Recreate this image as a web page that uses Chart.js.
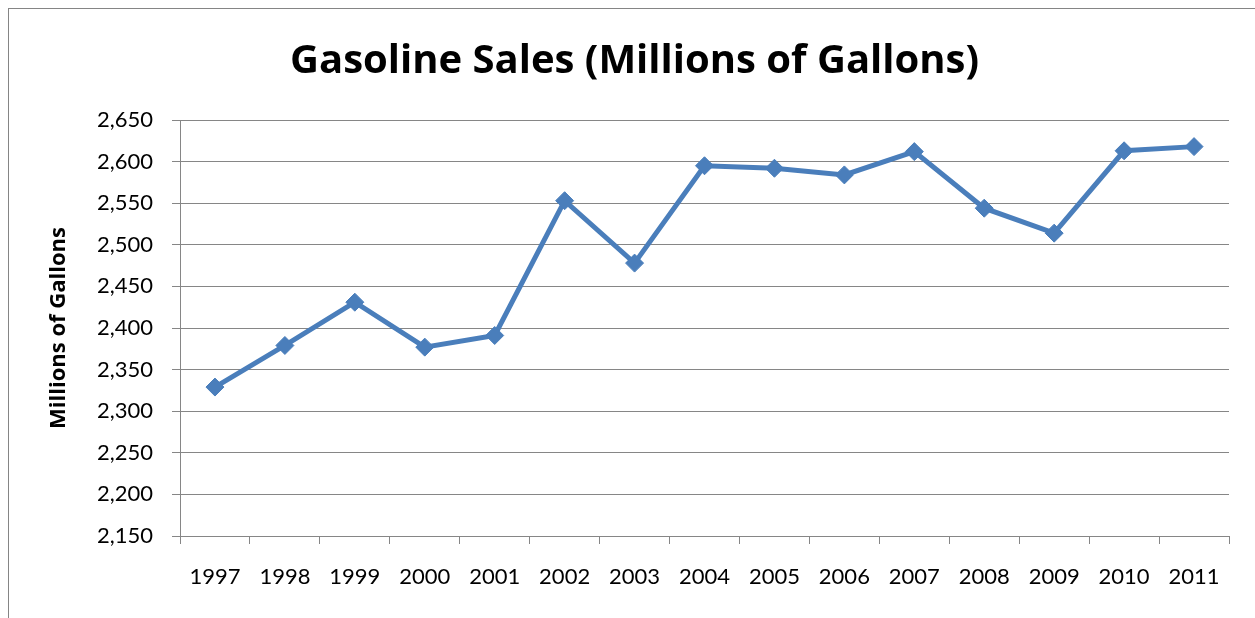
<!DOCTYPE html>
<html>
<head>
<meta charset="utf-8">
<script src="https://cdn.jsdelivr.net/npm/chart.js@4/dist/chart.umd.min.js"></script>
<style>
  html, body { margin: 0; padding: 0; background: #fff; }
  #wrap { position: relative; width: 1255px; height: 618px; overflow: hidden; }
  #frame { position: absolute; left: 8px; top: 8px; width: 2000px; height: 2000px;
           border-left: 1px solid #858585; border-top: 1px solid #858585; }
  #c { position: absolute; left: 0; top: 0; }
</style>
</head>
<body>
<div id="wrap">
  <div id="frame"></div>
  <canvas id="c" width="1255" height="618"></canvas>
</div>
<script>
const years = ['1997', '1998', '1999', '2000', '2001', '2002', '2003', '2004',
  '2005', '2006', '2007', '2008', '2009', '2010', '2011'];
const sales = [2329, 2379, 2431, 2377, 2391, 2553, 2478, 2595,
  2592, 2584, 2612, 2544, 2514, 2613, 2618];
const yMin = 2150;
const yMax = 2650;
const yStep = 50;

const tickFont = 'Lato, "Open Sans", sans-serif';
const boldFont = '"Open Sans", Lato, sans-serif';
const gridGray = '#868686';
const lineBlue = '#4a7ebb';

new Chart(document.getElementById('c'), {
  type: 'line',
  data: {
    labels: years,
    datasets: [{
      label: 'Gasoline Sales',
      data: sales,
      borderColor: lineBlue,
      backgroundColor: lineBlue,
      borderWidth: 5,
      pointStyle: 'rectRot',
      pointRadius: 9,
      pointBorderWidth: 1,
      pointBorderColor: lineBlue,
      tension: 0
    }]
  },
  options: {
    responsive: false,
    animation: false,
    layout: { padding: { left: 40, right: 26, top: 0, bottom: 22 } },
    plugins: {
      legend: { display: false },
      tooltip: { enabled: false },
      title: {
        display: true,
        text: 'Gasoline Sales (Millions of Gallons)',
        color: '#000',
        font: { family: boldFont, size: 40, weight: 'bold' },
        padding: { top: 38, bottom: 34 }
      }
    },
    scales: {
      x: {
        offset: true,
        border: { color: gridGray, width: 1 },
        grid: { offset: true, drawOnChartArea: false, drawTicks: true, tickLength: 8, color: gridGray },
        ticks: { color: '#000', font: { family: tickFont, size: 22 }, padding: 20, maxRotation: 0 },
        afterFit: s => { s.height = 60; }
      },
      y: {
        min: yMin,
        max: yMax,
        border: { color: gridGray, width: 1 },
        grid: { color: gridGray, lineWidth: 1, tickLength: 8 },
        ticks: {
          stepSize: yStep,
          color: '#000',
          font: { family: tickFont, size: 22 },
          padding: 19,
          callback: v => v.toLocaleString('en-US')
        },
        title: {
          display: true,
          text: 'Millions of Gallons',
          color: '#000',
          font: { family: boldFont, size: 22, weight: 'bold' },
          padding: { top: 6, bottom: 0 }
        },
        afterFit: s => { s.width = 140; }
      }
    }
  }
});
</script>
</body>
</html>
